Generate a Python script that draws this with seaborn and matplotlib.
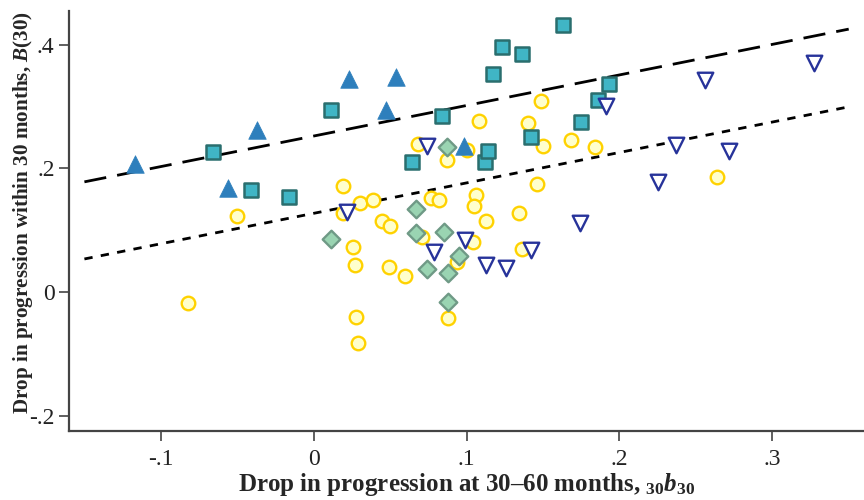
import matplotlib
matplotlib.use("Agg")
import matplotlib.pyplot as plt
import seaborn as sns
import pandas as pd
import numpy as np

# blue filled triangles
tri_x = [-0.117, -0.056, -0.037, 0.023, 0.047, 0.054, 0.098]
tri_y = [0.207, 0.168, 0.262, 0.344, 0.294, 0.348, 0.236]

# teal squares
sq_x = [-0.066, -0.041, -0.016, 0.011, 0.064, 0.084, 0.117, 0.112, 0.114,
        0.123, 0.136, 0.142, 0.163, 0.175, 0.186, 0.193]
sq_y = [0.226, 0.165, 0.154, 0.294, 0.210, 0.285, 0.352, 0.210, 0.228,
        0.396, 0.385, 0.251, 0.432, 0.275, 0.310, 0.336]

# green diamonds
dia_x = [0.011, 0.067, 0.067, 0.074, 0.085, 0.087, 0.088, 0.088, 0.095]
dia_y = [0.086, 0.134, 0.095, 0.037, 0.097, 0.234, 0.031, -0.016, 0.058]

# navy hollow down triangles
inv_x = [0.022, 0.074, 0.079, 0.099, 0.113, 0.126, 0.142, 0.174, 0.191,
         0.225, 0.237, 0.256, 0.272, 0.327]
inv_y = [0.129, 0.236, 0.065, 0.084, 0.044, 0.039, 0.068, 0.111, 0.300,
         0.177, 0.238, 0.343, 0.227, 0.370]

# yellow circles
circ_x = [-0.082, -0.050, 0.019, 0.019, 0.030, 0.039, 0.045, 0.050, 0.026,
          0.027, 0.049, 0.060, 0.028, 0.029, 0.068, 0.071, 0.077, 0.082,
          0.087, 0.100, 0.108, 0.104, 0.094, 0.088, 0.106, 0.105, 0.113,
          0.134, 0.136, 0.140, 0.149, 0.150, 0.146, 0.168, 0.184, 0.264]
circ_y = [-0.018, 0.122, 0.172, 0.128, 0.144, 0.149, 0.115, 0.106, 0.073,
          0.044, 0.041, 0.026, -0.040, -0.082, 0.239, 0.089, 0.152, 0.148,
          0.213, 0.230, 0.277, 0.080, 0.049, -0.042, 0.157, 0.139, 0.115,
          0.128, 0.069, 0.273, 0.309, 0.236, 0.175, 0.245, 0.235, 0.185]

# fitted lines (intercept, slope)
dash_a, dash_b = 0.252, 0.494
dot_a, dot_b = 0.127, 0.492
line_x = [-0.15, 0.35]

sns.set_style("ticks")
plt.rcParams['font.family'] = ['Liberation Serif', 'DejaVu Serif']
plt.rcParams['mathtext.fontset'] = 'custom'
plt.rcParams['mathtext.rm'] = 'Liberation Serif:bold'
plt.rcParams['mathtext.it'] = 'Liberation Serif:italic:bold'
plt.rcParams['mathtext.bf'] = 'Liberation Serif:bold'

fig, ax = plt.subplots(figsize=(8.64, 5.0), dpi=100)
fig.subplots_adjust(left=0.08, right=1.0, bottom=0.138, top=0.979)

sns.scatterplot(x=circ_x, y=circ_y, ax=ax, marker='o', s=95,
                color='#FFFFCC', edgecolor='#FFD200', linewidth=1.7, zorder=3)
sns.scatterplot(x=sq_x, y=sq_y, ax=ax, marker='s', s=100,
                color='#40B5C5', edgecolor='#2A6E6E', linewidth=1.8, zorder=4)
sns.scatterplot(x=dia_x, y=dia_y, ax=ax, marker='D', s=80,
                color='#9AD4B2', edgecolor='#6F9A86', linewidth=1.7, zorder=5)
sns.scatterplot(x=inv_x, y=inv_y, ax=ax, marker='v', s=125,
                color='white', edgecolor='#27339A', linewidth=1.7, zorder=6)
sns.scatterplot(x=tri_x, y=tri_y, ax=ax, marker='^', s=160,
                color='#2E7FBC', edgecolor='#2E7FBC', linewidth=0.5, zorder=6)

lx = np.array(line_x)
ax.plot(lx, dash_a + dash_b * lx, color='black', lw=2, dashes=(8, 4), zorder=2)
ax.plot(lx, dot_a + dot_b * lx, color='black', lw=2, dashes=(3, 3), zorder=2)

ax.set_xlim(-0.16, 0.36)
ax.set_ylim(-0.225, 0.455)
ax.set_xticks([-0.1, 0, 0.1, 0.2, 0.3])
ax.set_xticklabels(['-.1', '0', '.1', '.2', '.3'])
ax.set_yticks([-0.2, 0, 0.2, 0.4])
ax.set_yticklabels(['-.2', '0', '.2', '.4'])
ax.tick_params(labelsize=17, length=7, width=1.2, colors='#444444', labelcolor='#222222')
ax.tick_params(axis='x', pad=6)

sns.despine(ax=ax)
for side in ['left', 'bottom']:
    ax.spines[side].set_color('#444444')
    ax.spines[side].set_linewidth(1.6)

ax.set_xlabel('Drop in progression at 30\u201360 months, $_{30}b_{30}$',
              fontsize=18, fontweight='bold', labelpad=1)
ax.set_ylabel('Drop in progression within 30 months, $B$(30)',
              fontsize=15.2, fontweight='bold')
ax.yaxis.set_label_coords(-0.043, 0.52)

plt.savefig('out.png', dpi=100)
